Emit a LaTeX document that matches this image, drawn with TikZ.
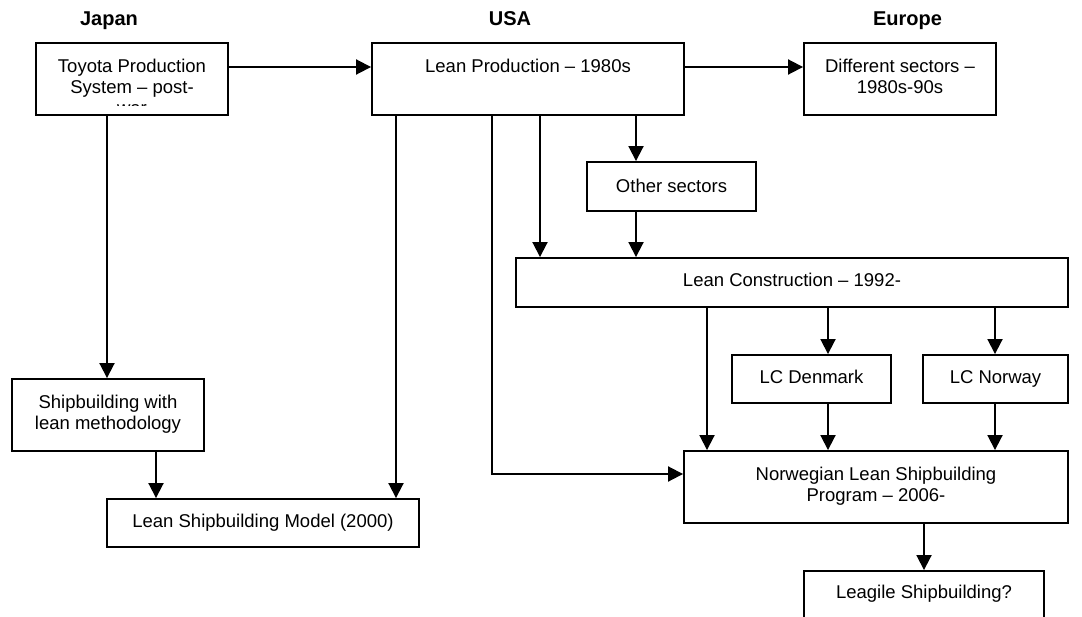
\documentclass[tikz,border=0pt]{standalone}
\usepackage{fontspec}
\setmainfont{Liberation Sans}
\usetikzlibrary{arrows.meta}
\begin{document}
\begin{tikzpicture}[x=1pt,y=-1pt,
  box/.style={draw, line width=1.9pt, rectangle, inner sep=0pt},
  txt/.style={font=\fontsize{18.5}{21}\selectfont, align=center, anchor=base, inner sep=0pt},
  head/.style={font=\fontsize{20}{24}\selectfont\bfseries, anchor=base, inner sep=0pt},
  link/.style={line width=1.9pt, -{Triangle[length=15pt,width=15pt]}},
]
\useasboundingbox (0,0) rectangle (1082,616);
\clip (0,0) rectangle (1082,616);

% column headings
\node[head] (jp) at (109,25) {Japan};
\node[head] (us) at (510,25) {USA};
\node[head] (eu) at (907.5,25) {Europe};

% boxes
\node[box, minimum width=192pt, minimum height=72pt] (tps)  at (132,79)    {};
\node[box, minimum width=312pt, minimum height=72pt] (lp)   at (528,79)    {};
\node[box, minimum width=192pt, minimum height=72pt] (ds)   at (900,79)    {};
\node[box, minimum width=169pt, minimum height=49pt] (os)   at (671.5,186.5) {};
\node[box, minimum width=552pt, minimum height=49pt] (lc)   at (792,282.5) {};
\node[box, minimum width=159pt, minimum height=48pt] (lcd)  at (811.5,379) {};
\node[box, minimum width=145pt, minimum height=48pt] (lcn)  at (995.5,379) {};
\node[box, minimum width=384pt, minimum height=72pt] (nlsp) at (876,487)   {};
\node[box, minimum width=240pt, minimum height=72pt] (leag) at (924,607)   {};
\node[box, minimum width=192pt, minimum height=72pt] (sb)   at (108,415)   {};
\node[box, minimum width=312pt, minimum height=48pt] (lsm)  at (263,523)   {};

% box texts (base anchor sits on the last line's baseline)
\begin{scope}
  \clip (36,43) rectangle (228,105);
  \node[txt] (tps-t) at (132,114) {Toyota Production\\System – post-\\war};
\end{scope}
\node[txt] (lp-t)   at (528,72)  {Lean Production – 1980s};
\node[txt] (ds-t)   at (900,93)  {Different sectors –\\1980s-90s};
\node[txt] (os-t)   at (671.5,192) {Other sectors};
\node[txt] (lc-t)   at (792,286) {Lean Construction – 1992-};
\node[txt] (lcd-t)  at (811.5,383) {LC Denmark};
\node[txt] (lcn-t)  at (995.5,383) {LC Norway};
\node[txt] (nlsp-t) at (876,501) {Norwegian Lean Shipbuilding\\Program – 2006-};
\node[txt] (leag-t) at (924,598) {Leagile Shipbuilding?};
\node[txt] (sb-t)   at (108,429) {Shipbuilding with\\lean methodology};
\node[txt] (lsm-t)  at (263,527) {Lean Shipbuilding Model (2000)};

% vertical connector tracks
\coordinate (xa) at (396,0);
\coordinate (xb) at (492,0);
\coordinate (xc) at (540,0);
\coordinate (xd) at (636,0);
\coordinate (xe) at (707,0);
\coordinate (xf) at (828,0);
\coordinate (xg) at (156,0);
\coordinate (xh) at (107,0);
\coordinate (xi) at (995,0);

% connectors
\draw[link] ([yshift=12pt]tps.east) -- ([yshift=12pt]tps.east -| lp.west);
\draw[link] ([yshift=12pt]lp.east) -- ([yshift=12pt]lp.east -| ds.west);
\draw[link] (xh |- tps.south) -- (xh |- sb.north);
\draw[link] (xg |- sb.south) -- (xg |- lsm.north);
\draw[link] (xa |- lp.south) -- (xa |- lsm.north);
\draw[link] (xb |- lp.south) |- ([yshift=13pt]nlsp.west);
\draw[link] (xc |- lp.south) -- (xc |- lc.north);
\draw[link] (xd |- lp.south) -- (xd |- os.north);
\draw[link] (xd |- os.south) -- (xd |- lc.north);
\draw[link] (xe |- lc.south) -- (xe |- nlsp.north);
\draw[link] (xf |- lc.south) -- (xf |- lcd.north);
\draw[link] (xi |- lc.south) -- (xi |- lcn.north);
\draw[link] (xf |- lcd.south) -- (xf |- nlsp.north);
\draw[link] (xi |- lcn.south) -- (xi |- nlsp.north);
\draw[link] (leag.north |- nlsp.south) -- (leag.north);
\end{tikzpicture}
\end{document}
